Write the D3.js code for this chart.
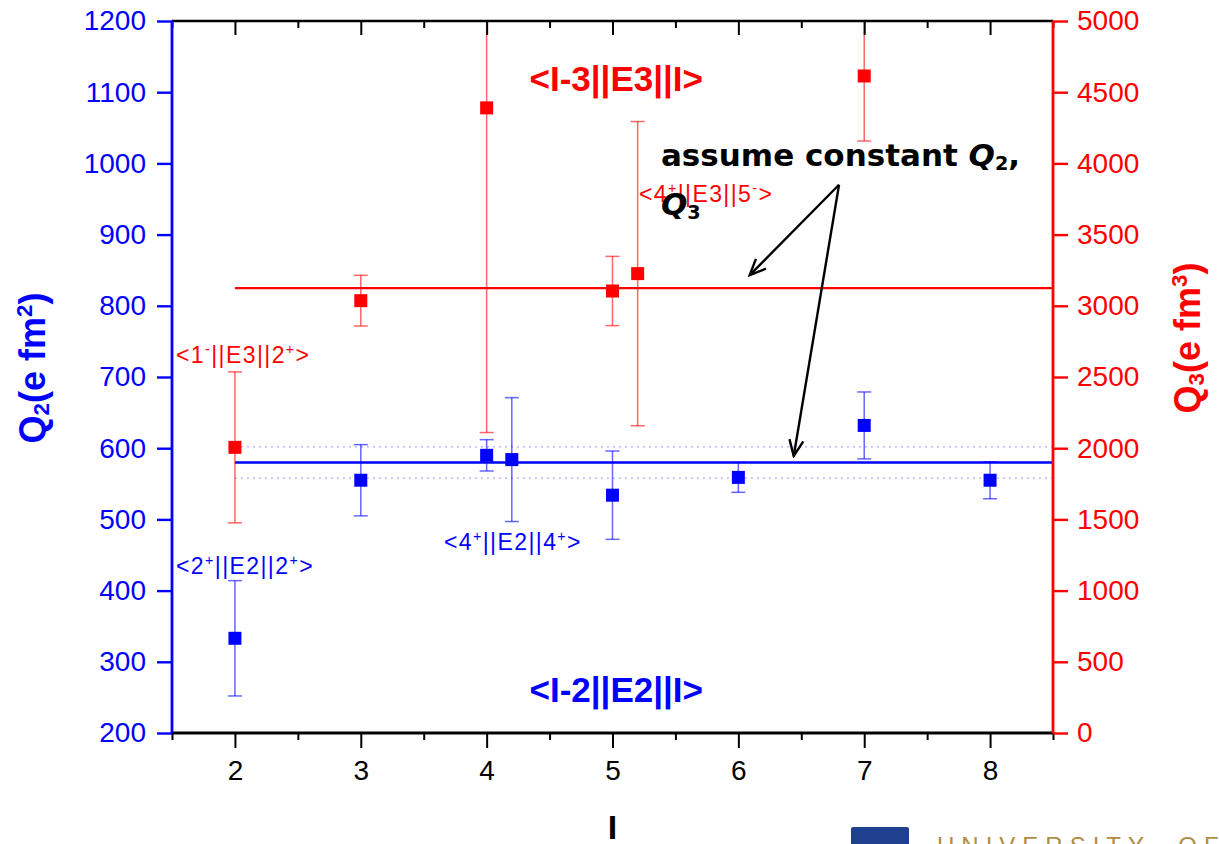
<!DOCTYPE html>
<html>
<head>
<meta charset="utf-8">
<script src="https://cdn.jsdelivr.net/npm/d3@7/dist/d3.min.js"></script>
<style>
  html, body { margin: 0; padding: 0; background: #fff; }
  svg { display: block; }
</style>
</head>
<body>
<svg id="chart" width="1219" height="844" style="font-family: 'Liberation Sans', Arial, sans-serif;"></svg>
<script>
// ---- data ----
const q2Spin = [2, 3, 4, 4.2, 5, 6, 7, 8];
const q2Value = [333, 555, 590, 584, 534, 559, 632, 555];
const q2Error = [81, 50, 22, 87, 62, 21, 47, 26];

const q3Spin = [2, 3, 4, 5, 5.2, 7];
const q3Value = [2006, 3036, 4390, 3104, 3226, 4614];
const q3Error = [530, 178, 2280, 243, 1068, 457];

const q2Constant = 580;
const q2Band = [558, 602];
const q3Constant = 3124;

const xTicks = [2, 3, 4, 5, 6, 7, 8];
const xMinorTicks = [1.5, 2.5, 3.5, 4.5, 5.5, 6.5, 7.5, 8.5];
const leftTicks = [200, 300, 400, 500, 600, 700, 800, 900, 1000, 1100, 1200];
const rightTicks = [0, 500, 1000, 1500, 2000, 2500, 3000, 3500, 4000, 4500, 5000];

// ---- layout ----
const W = 1219, H = 844;
const m = { left: 172, right: 166, top: 21, bottom: 111 };
const pw = W - m.left - m.right, ph = H - m.top - m.bottom;

const BLUE = "#0000ff", RED = "#ff0000";
const SANS = "'Liberation Sans', Arial, sans-serif";
const DEJAVU = "'DejaVu Sans', Verdana, sans-serif";

const svg = d3.select("#chart");
const x = d3.scaleLinear().domain([1.5, 8.5]).range([m.left, m.left + pw]);
const yL = d3.scaleLinear().domain([200, 1200]).range([m.top + ph, m.top]);
const yR = d3.scaleLinear().domain([0, 5000]).range([m.top + ph, m.top]);

const defs = svg.append("defs");
defs.append("clipPath").attr("id", "plot")
  .append("rect").attr("x", m.left).attr("y", m.top).attr("width", pw).attr("height", ph);

defs.append("marker")
  .attr("id", "arrow").attr("viewBox", "0 0 20 20").attr("refX", 18).attr("refY", 10)
  .attr("markerWidth", 20).attr("markerHeight", 20).attr("markerUnits", "userSpaceOnUse")
  .attr("orient", "auto")
  .append("path").attr("d", "M2,3 L18,10 L2,17").attr("fill", "none")
  .attr("stroke", "#000").attr("stroke-width", 2.4);

const plot = svg.append("g").attr("clip-path", "url(#plot)");

// dotted band lines for Q2
plot.selectAll("line.band").data(q2Band).join("line")
  .attr("x1", x(2)).attr("x2", x(8.5))
  .attr("y1", d => yL(d)).attr("y2", d => yL(d))
  .attr("stroke", "#aaaaff").attr("stroke-width", 1.2).attr("stroke-dasharray", "2,4");

// constant lines
plot.append("line").attr("x1", x(2)).attr("x2", x(8.5))
  .attr("y1", yL(q2Constant)).attr("y2", yL(q2Constant))
  .attr("stroke", BLUE).attr("stroke-width", 2.4);
plot.append("line").attr("x1", x(2)).attr("x2", x(8.5))
  .attr("y1", yR(q3Constant)).attr("y2", yR(q3Constant))
  .attr("stroke", RED).attr("stroke-width", 2.4);

// error bars + markers
function drawSeries(spins, vals, errs, y, color) {
  const data = spins.map((s, i) => ({ s, v: vals[i], e: errs[i] }));
  const g = plot.append("g");
  const cap = 7;
  const eg = g.selectAll("g.err").data(data).join("g")
    .attr("stroke", color).attr("stroke-opacity", 0.6).attr("stroke-width", 1.5);
  eg.append("line").attr("x1", d => x(d.s)).attr("x2", d => x(d.s))
    .attr("y1", d => y(d.v - d.e)).attr("y2", d => y(d.v + d.e));
  eg.append("line").attr("x1", d => x(d.s) - cap).attr("x2", d => x(d.s) + cap)
    .attr("y1", d => y(d.v - d.e)).attr("y2", d => y(d.v - d.e));
  eg.append("line").attr("x1", d => x(d.s) - cap).attr("x2", d => x(d.s) + cap)
    .attr("y1", d => y(d.v + d.e)).attr("y2", d => y(d.v + d.e));
  const s = 13;
  g.selectAll("rect").data(data).join("rect")
    .attr("x", d => x(d.s) - s / 2).attr("y", d => y(d.v) - s / 2)
    .attr("width", s).attr("height", s).attr("fill", color);
}
drawSeries(q3Spin, q3Value, q3Error, yR, RED);
drawSeries(q2Spin, q2Value, q2Error, yL, BLUE);

// ---- axes ----
const fs = 28;
function styleTicks(g, color, w) {
  g.select(".domain").remove();
  g.selectAll(".tick line").attr("stroke", color).attr("stroke-width", w);
  g.selectAll(".tick text").attr("fill", color).attr("font-size", fs).style("font-family", SANS);
}
// bottom
styleTicks(svg.append("g").attr("transform", `translate(0,${m.top + ph})`)
  .call(d3.axisBottom(x).tickValues(xTicks).tickFormat(d3.format("d")).tickSize(15).tickPadding(12).tickSizeOuter(0)), "#000", 2);
styleTicks(svg.append("g").attr("transform", `translate(0,${m.top + ph})`)
  .call(d3.axisBottom(x).tickValues(xMinorTicks).tickFormat("").tickSize(7).tickSizeOuter(0)), "#000", 2);
// top (inward ticks)
styleTicks(svg.append("g").attr("transform", `translate(0,${m.top})`)
  .call(d3.axisBottom(x).tickValues(xTicks).tickFormat("").tickSize(14).tickSizeOuter(0)), "#000", 2);
styleTicks(svg.append("g").attr("transform", `translate(0,${m.top})`)
  .call(d3.axisBottom(x).tickValues(xMinorTicks).tickFormat("").tickSize(7).tickSizeOuter(0)), "#000", 2);
// left
styleTicks(svg.append("g").attr("transform", `translate(${m.left},0)`)
  .call(d3.axisLeft(yL).tickValues(leftTicks).tickFormat(d3.format("d")).tickSize(15).tickPadding(11).tickSizeOuter(0)), BLUE, 2.4);
// right
styleTicks(svg.append("g").attr("transform", `translate(${m.left + pw},0)`)
  .call(d3.axisRight(yR).tickValues(rightTicks).tickFormat(d3.format("d")).tickSize(15).tickPadding(9).tickSizeOuter(0)), RED, 2.4);

// frame lines
svg.append("line").attr("x1", m.left).attr("x2", m.left + pw).attr("y1", m.top).attr("y2", m.top)
  .attr("stroke", "#000").attr("stroke-width", 2.6);
svg.append("line").attr("x1", m.left).attr("x2", m.left + pw).attr("y1", m.top + ph).attr("y2", m.top + ph)
  .attr("stroke", "#000").attr("stroke-width", 2.8);
svg.append("line").attr("x1", m.left).attr("x2", m.left).attr("y1", m.top).attr("y2", m.top + ph)
  .attr("stroke", BLUE).attr("stroke-width", 2.8);
svg.append("line").attr("x1", m.left + pw).attr("x2", m.left + pw).attr("y1", m.top).attr("y2", m.top + ph)
  .attr("stroke", RED).attr("stroke-width", 2.8);

// ---- axis titles ----
svg.append("text").attr("x", x(5)).attr("y", 839).attr("text-anchor", "middle")
  .attr("font-size", 34).attr("font-weight", "bold").attr("fill", "#000").text("I");

function richText(sel, parts) {
  parts.forEach(p => {
    const t = sel.append("tspan").text(p.t);
    if (p.sub) t.attr("font-size", "0.62em").attr("baseline-shift", "-0.2em");
    if (p.sup) t.attr("font-size", "0.62em").attr("baseline-shift", "0.6em");
    if (p.italic) t.attr("font-style", "italic");
  });
}

const ql = svg.append("text").attr("transform", `translate(45,368) rotate(-90)`)
  .attr("text-anchor", "middle").attr("font-size", 36).attr("font-weight", "bold").attr("fill", BLUE);
richText(ql, [{ t: "Q" }, { t: "2", sub: true }, { t: "(e fm" }, { t: "2", sup: true }, { t: ")" }]);

const qr = svg.append("text").attr("transform", `translate(1200,338) rotate(-90)`)
  .attr("text-anchor", "middle").attr("font-size", 36).attr("font-weight", "bold").attr("fill", RED);
richText(qr, [{ t: "Q" }, { t: "3", sub: true }, { t: "(e fm" }, { t: "3", sup: true }, { t: ")" }]);

// ---- annotations (positions in data coordinates, left axis) ----
svg.append("text").attr("x", x(5.03)).attr("y", yL(1102)).attr("text-anchor", "middle")
  .attr("font-size", 35).attr("font-weight", "bold").attr("fill", RED).text("<I-3||E3||I>");
svg.append("text").attr("x", x(5.03)).attr("y", yL(243.5)).attr("text-anchor", "middle")
  .attr("font-size", 35).attr("font-weight", "bold").attr("fill", BLUE).text("<I-2||E2||I>");

const smallLabels = [
  { x: 1.532, y: 720, color: RED, parts: [{ t: "<1" }, { t: "-", sup: true }, { t: "||E3||2" }, { t: "+", sup: true }, { t: ">" }] },
  { x: 1.532, y: 423, color: BLUE, parts: [{ t: "<2" }, { t: "+", sup: true }, { t: "||E2||2" }, { t: "+", sup: true }, { t: ">" }] },
  { x: 3.661, y: 457, color: BLUE, parts: [{ t: "<4" }, { t: "+", sup: true }, { t: "||E2||4" }, { t: "+", sup: true }, { t: ">" }] },
  { x: 5.21, y: 946, color: RED, parts: [{ t: "<4" }, { t: "+", sup: true }, { t: "||E3||5" }, { t: "-", sup: true }, { t: ">" }] }
];
smallLabels.forEach(l => {
  const t = svg.append("text").attr("x", x(l.x)).attr("y", yL(l.y))
    .attr("font-size", 23).attr("letter-spacing", 1.4).attr("fill", l.color);
  richText(t, l.parts);
});

const note1 = svg.append("text").attr("x", x(5.385)).attr("y", yL(996))
  .style("font-family", DEJAVU).attr("font-size", 31).attr("font-weight", "bold").attr("fill", "#000");
richText(note1, [{ t: "assume constant " }, { t: "Q", italic: true }, { t: "2", sub: true }, { t: "," }]);
const note2 = svg.append("text").attr("x", x(5.385)).attr("y", yL(927.5))
  .style("font-family", DEJAVU).attr("font-size", 31).attr("font-weight", "bold").attr("fill", "#000");
richText(note2, [{ t: "Q", italic: true }, { t: "3", sub: true }]);

// arrows
const apex = { x: 6.8, y: 970 };
[{ x: 6.09, y: 843 }, { x: 6.44, y: 589 }].forEach(e => {
  svg.append("line").attr("x1", x(apex.x)).attr("y1", yL(apex.y))
    .attr("x2", x(e.x)).attr("y2", yL(e.y))
    .attr("stroke", "#000").attr("stroke-width", 2.4).attr("marker-end", "url(#arrow)");
});

// ---- logo strip at bottom ----
svg.append("rect").attr("x", 851).attr("y", 827).attr("width", 58).attr("height", 20)
  .attr("rx", 2).attr("fill", "#1f3f8f");
svg.append("text").attr("x", 937).attr("y", 854).attr("font-size", 24)
  .attr("letter-spacing", 7).attr("word-spacing", 14).attr("fill", "#b08d45").text("UNIVERSITY OF");
</script>
</body>
</html>
